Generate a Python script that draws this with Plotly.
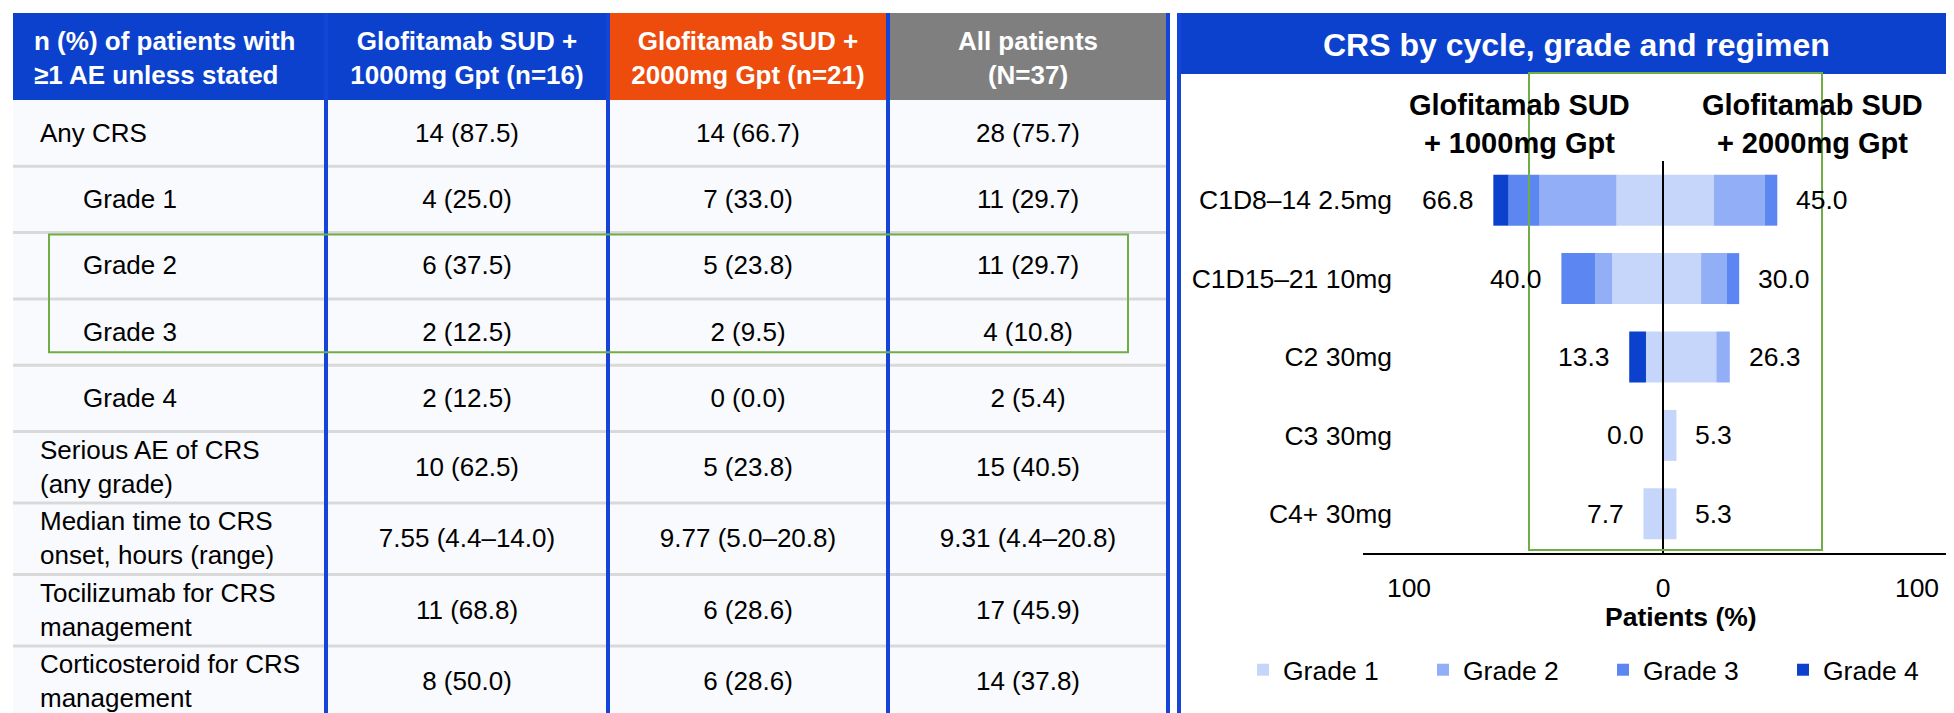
import plotly.graph_objects as go

# the figure is made a little wider than the window; the page crops the right edge
W, H = 2000, 713

# ---- table data ----
header_labels = ["n (%) of patients with<br>≥1 AE unless stated",
                 "Glofitamab SUD +<br>1000mg Gpt (n=16)",
                 "Glofitamab SUD +<br>2000mg Gpt (n=21)",
                 "All patients<br>(N=37)"]
row_labels = ["Any CRS", "Grade 1", "Grade 2", "Grade 3", "Grade 4",
              "Serious AE of CRS<br>(any grade)",
              "Median time to CRS<br>onset, hours (range)",
              "Tocilizumab for CRS<br>management",
              "Corticosteroid for CRS<br>management"]
row_level = [0, 1, 1, 1, 1, 0, 0, 0, 0]
sud_1000mg = ["14 (87.5)", "4 (25.0)", "6 (37.5)", "2 (12.5)", "2 (12.5)",
              "10 (62.5)", "7.55 (4.4–14.0)", "11 (68.8)", "8 (50.0)"]
sud_2000mg = ["14 (66.7)", "7 (33.0)", "5 (23.8)", "2 (9.5)", "0 (0.0)",
              "5 (23.8)", "9.77 (5.0–20.8)", "6 (28.6)", "6 (28.6)"]
all_patients = ["28 (75.7)", "11 (29.7)", "11 (29.7)", "4 (10.8)", "2 (5.4)",
                "15 (40.5)", "9.31 (4.4–20.8)", "17 (45.9)", "14 (37.8)"]
highlight_rows = [2, 3]

# ---- chart data, % of patients ----
cycles = ["C1D8–14 2.5mg", "C1D15–21 10mg", "C2 30mg", "C3 30mg", "C4+ 30mg"]
grade_names = ["Grade 1", "Grade 2", "Grade 3", "Grade 4"]
gpt1000_grade1 = [18.3, 20.0, 6.7, 0.0, 7.7]
gpt1000_grade2 = [30.3, 6.7, 0.0, 0.0, 0.0]
gpt1000_grade3 = [12.2, 13.3, 0.0, 0.0, 0.0]
gpt1000_grade4 = [6.0, 0.0, 6.6, 0.0, 0.0]
gpt2000_grade1 = [20.0, 15.0, 21.0, 5.3, 5.3]
gpt2000_grade2 = [20.0, 10.0, 5.3, 0.0, 0.0]
gpt2000_grade3 = [5.0, 5.0, 0.0, 0.0, 0.0]
gpt2000_grade4 = [0.0, 0.0, 0.0, 0.0, 0.0]
gpt1000_total = [66.8, 40.0, 13.3, 0.0, 7.7]
gpt2000_total = [45.0, 30.0, 26.3, 5.3, 5.3]

# styles
BLUE = "#0b41cd"
ORANGE = "#ed4c0d"
GREY = "#7f7f7f"
LINE_BLUE = "#1545d6"
SEP = "#d9d9d9"
BODY = "#f9fafd"
GREEN = "#70ad47"
grade_colors = ["#c6d6fb", "#91aef6", "#5c86f1", "#0b41cd"]
header_fills = [BLUE, BLUE, ORANGE, GREY]
FONT = "Liberation Sans"
FS = 26      # table text
FS_C = 26.5  # chart text

# the page puts the figure 8px in from the corner (body margin)
OFF = 8


def paper_x(p):
    return (p - OFF) / W


def paper_y(p):
    return 1 - (p - OFF) / H


fig = go.Figure()

# ---- table, drawn on a hidden subplot whose units are pixels ----
TABLE_LEFT, TABLE_TOP = 13, 13
col_widths = [313, 282, 280, 280]
col_edges = [0]
for w in col_widths:
    col_edges.append(col_edges[-1] + w)
col_mid = [(a + b) / 2 for a, b in zip(col_edges[:-1], col_edges[1:])]
header_h = 87
row_tops = [header_h]
for lab in row_labels:
    row_tops.append(row_tops[-1] + (71.5 if "<br>" in lab else 66.3))
row_mid = [(a + b) / 2 + 2 for a, b in zip(row_tops[:-1], row_tops[1:])]
table_h = H - (TABLE_TOP - OFF)
table_w = col_edges[-1] + 5

shapes = []
for i, c in enumerate(header_fills):
    shapes.append(dict(type="rect", xref="x2", yref="y2", x0=col_edges[i], x1=col_edges[i + 1],
                       y0=0, y1=header_h, fillcolor=c, line_width=0, layer="below"))
shapes.append(dict(type="rect", xref="x2", yref="y2", x0=0, x1=col_edges[-1], y0=header_h,
                   y1=table_h, fillcolor=BODY, line_width=0, layer="below"))
for y in row_tops[1:]:
    shapes.append(dict(type="line", xref="x2", yref="y2", x0=0, x1=col_edges[-1], y0=y, y1=y,
                       line=dict(color=SEP, width=3), layer="below"))
for x in col_edges[1:]:
    shapes.append(dict(type="line", xref="x2", yref="y2", x0=x, x1=x, y0=0, y1=table_h,
                       line=dict(color=LINE_BLUE, width=4), layer="below"))
# green highlight round grade 2-3
shapes.append(dict(type="rect", xref="x2", yref="y2", x0=36, x1=1115,
                   y0=row_tops[highlight_rows[0]] + 2, y1=row_tops[highlight_rows[-1] + 1] - 13,
                   line=dict(color=GREEN, width=2), fillcolor="rgba(0,0,0,0)", layer="above"))

fig.add_trace(go.Scatter(
    x=[21] + col_mid[1:], y=[header_h / 2 + 4] * 4, mode="text",
    text=["<b>" + h + "</b>" for h in header_labels],
    textposition=["middle right", "middle center", "middle center", "middle center"],
    textfont=dict(family=FONT, size=FS, color="white"),
    xaxis="x2", yaxis="y2", hoverinfo="skip", showlegend=False))
fig.add_trace(go.Scatter(
    x=[27 + 43 * lv for lv in row_level], y=row_mid, mode="text",
    text=row_labels, textposition="middle right",
    textfont=dict(family=FONT, size=FS, color="black"),
    xaxis="x2", yaxis="y2", hoverinfo="skip", showlegend=False))
for j, col in enumerate([sud_1000mg, sud_2000mg, all_patients]):
    fig.add_trace(go.Scatter(
        x=[col_mid[j + 1]] * len(col), y=row_mid, mode="text",
        text=col, textposition="middle center",
        textfont=dict(family=FONT, size=FS, color="black"),
        xaxis="x2", yaxis="y2", hoverinfo="skip", showlegend=False))

# ---- CRS by cycle chart ----
left = [gpt1000_grade1, gpt1000_grade2, gpt1000_grade3, gpt1000_grade4]
right = [gpt2000_grade1, gpt2000_grade2, gpt2000_grade3, gpt2000_grade4]
for g in range(4):
    fig.add_trace(go.Bar(
        y=cycles, x=[-v for v in left[g]], orientation="h", name=grade_names[g],
        marker=dict(color=grade_colors[g], line_width=0), legendgroup=grade_names[g],
        hoverinfo="skip"))
    fig.add_trace(go.Bar(
        y=cycles, x=right[g], orientation="h", name=grade_names[g],
        marker=dict(color=grade_colors[g], line_width=0), legendgroup=grade_names[g],
        showlegend=False, hoverinfo="skip"))

annotations = []
for cyc, lv, rv in zip(cycles, gpt1000_total, gpt2000_total):
    annotations.append(dict(x=-lv, y=cyc, xref="x", yref="y", text=f"{lv:.1f}", showarrow=False,
                            xanchor="right", xshift=-17, font=dict(family=FONT, size=FS_C, color="black")))
    annotations.append(dict(x=rv, y=cyc, xref="x", yref="y", text=f"{rv:.1f}", showarrow=False,
                            xanchor="left", xshift=17, font=dict(family=FONT, size=FS_C, color="black")))


def label(x, y, text, size, color="black"):
    return dict(x=paper_x(x), y=paper_y(y), xref="paper", yref="paper", showarrow=False,
                xanchor="center", yanchor="middle", text=text,
                font=dict(family=FONT, size=size, color=color))


annotations += [
    label(1576, 45, "<b>CRS by cycle, grade and regimen</b>", 32, "white"),
    label(1519, 124, "<b>Glofitamab SUD<br>+ 1000mg Gpt</b>", 29),
    label(1812, 124, "<b>Glofitamab SUD<br>+ 2000mg Gpt</b>", 29),
    label(1681, 617, "<b>Patients (%)</b>", FS_C),
]

# right panel frame
shapes += [
    dict(type="rect", xref="paper", yref="paper", x0=paper_x(1177), x1=1,
         y0=paper_y(74), y1=paper_y(13), fillcolor=BLUE, line_width=0, layer="below"),
    dict(type="line", xref="paper", yref="paper", x0=paper_x(1179), x1=paper_x(1179),
         y0=0, y1=paper_y(13), line=dict(color=LINE_BLUE, width=4)),
    dict(type="line", xref="x", yref="y domain", x0=0, x1=0, y0=0, y1=1,
         line=dict(color="black", width=2), layer="above"),
    dict(type="rect", xref="paper", yref="paper", x0=paper_x(1529), x1=paper_x(1822),
         y0=paper_y(550), y1=paper_y(73), line=dict(color=GREEN, width=2),
         fillcolor="rgba(0,0,0,0)", layer="above"),
]

ZERO_PX, PX_PER_PCT = 1663, 2.54
CHART_LEFT = 1363
CHART_RIGHT = W + OFF

fig.update_layout(
    width=W, height=H, autosize=False,
    margin=dict(l=0, r=0, t=0, b=0),
    paper_bgcolor="white", plot_bgcolor="white",
    font=dict(family=FONT, size=FS, color="black"),
    barmode="relative", bargap=0.35,
    xaxis=dict(domain=[paper_x(CHART_LEFT), 1], anchor="y",
               range=[-(ZERO_PX - CHART_LEFT) / PX_PER_PCT, (CHART_RIGHT - ZERO_PX) / PX_PER_PCT],
               tickvals=[-100, 0, 100], ticktext=["100", "0", "100"],
               showline=True, linecolor="black", linewidth=2, showgrid=False, zeroline=False,
               ticks="", ticklabelstandoff=10, tickfont=dict(size=FS_C, color="black"),
               fixedrange=True),
    yaxis=dict(domain=[paper_y(553), paper_y(161)], anchor="x", autorange="reversed",
               showline=False, showgrid=False, zeroline=False, ticks="",
               ticklabelstandoff=-30, tickfont=dict(size=FS_C, color="black"), fixedrange=True),
    xaxis2=dict(domain=[paper_x(TABLE_LEFT), paper_x(TABLE_LEFT + table_w)], range=[0, table_w],
                anchor="y2", visible=False, fixedrange=True),
    yaxis2=dict(domain=[0, paper_y(TABLE_TOP)], range=[table_h, 0], anchor="x2",
                visible=False, fixedrange=True),
    legend=dict(orientation="h", x=paper_x(1243), xanchor="left", y=paper_y(670), yanchor="middle",
                traceorder="normal", entrywidth=135, entrywidthmode="pixels",
                font=dict(family=FONT, size=FS_C, color="black"), bgcolor="rgba(0,0,0,0)"),
    shapes=shapes,
    annotations=annotations,
)

fig.write_html("out.html")
